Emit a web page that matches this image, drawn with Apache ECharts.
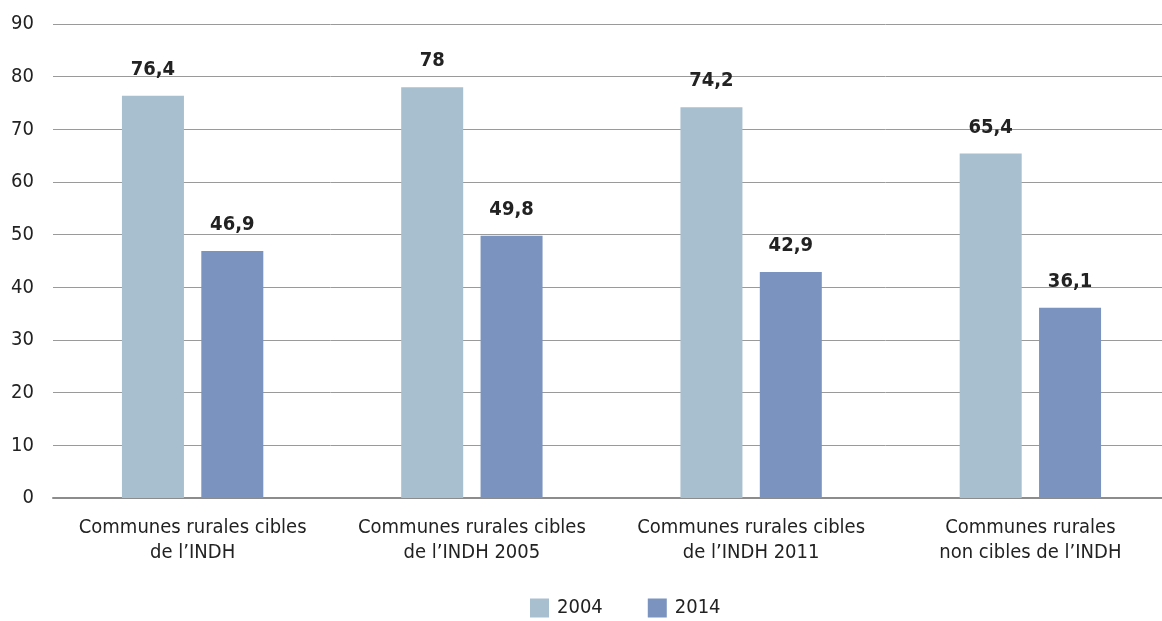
<!DOCTYPE html>
<html>
<head>
<meta charset="utf-8">
<script src="https://cdn.jsdelivr.net/npm/echarts@6/dist/echarts.min.js"></script>
<style>
  html, body { margin: 0; padding: 0; background: #fff; }
  #chart { width: 1162px; height: 621px; }
</style>
</head>
<body>
<div id="chart"></div>
<script>
  var categories = [
    'Communes rurales cibles\nde l\u2019INDH',
    'Communes rurales cibles\nde l\u2019INDH 2005',
    'Communes rurales cibles\nde l\u2019INDH 2011',
    'Communes rurales\nnon cibles de l\u2019INDH'
  ]
  var values2004 = [76.4, 78, 74.2, 65.4]
  var values2014 = [46.9, 49.8, 42.9, 36.1]

  var font = "'Liberation Sans Narrow', 'DejaVu Sans Condensed', 'Liberation Sans', sans-serif"

  var labelStyle = {
    show: true,
    position: 'top',
    distance: 16,
    color: '#222',
    fontFamily: font,
    fontSize: 20,
    fontWeight: 'bold',
    formatter: function (p) {
      return String(p.value).replace('.', ',')
    }
  }

  var chart = echarts.init(document.getElementById('chart'))
  chart.setOption({
    animation: false,
    textStyle: { fontFamily: font },
    legend: {
      bottom: -2,
      left: 525,
      icon: 'rect',
      itemWidth: 19,
      itemHeight: 19,
      itemGap: 45,
      textStyle: { fontFamily: font, fontSize: 20, color: '#222', padding: [0, 0, 0, 3] },
      data: ['2004', '2014']
    },
    // category bands run a little past the right edge, like the original
    grid: {
      left: 53,
      width: 1117,
      top: 24,
      height: 474,
      outerBoundsMode: 'none',
      containLabel: false
    },
    xAxis: {
      type: 'category',
      data: categories,
      axisTick: { show: false },
      axisLine: { lineStyle: { color: '#8c8c8c', width: 2 } },
      axisLabel: {
        interval: 0,
        color: '#222',
        fontFamily: font,
        fontSize: 20,
        lineHeight: 25,
        margin: 17
      }
    },
    yAxis: {
      type: 'value',
      min: 0,
      max: 90,
      interval: 10,
      axisLine: { show: false },
      axisTick: { show: false },
      splitLine: { lineStyle: { color: '#9a9a9a', width: 1 } },
      axisLabel: {
        color: '#222',
        fontFamily: font,
        fontSize: 20,
        margin: 19
      }
    },
    series: [
      {
        name: '2004',
        type: 'bar',
        data: values2004,
        barWidth: 62,
        barGap: '28%',
        itemStyle: { color: '#a8bfcf' },
        label: labelStyle
      },
      {
        name: '2014',
        type: 'bar',
        data: values2014,
        barWidth: 62,
        itemStyle: { color: '#7b93bf' },
        label: labelStyle
      }
    ]
  })
</script>
</body>
</html>
